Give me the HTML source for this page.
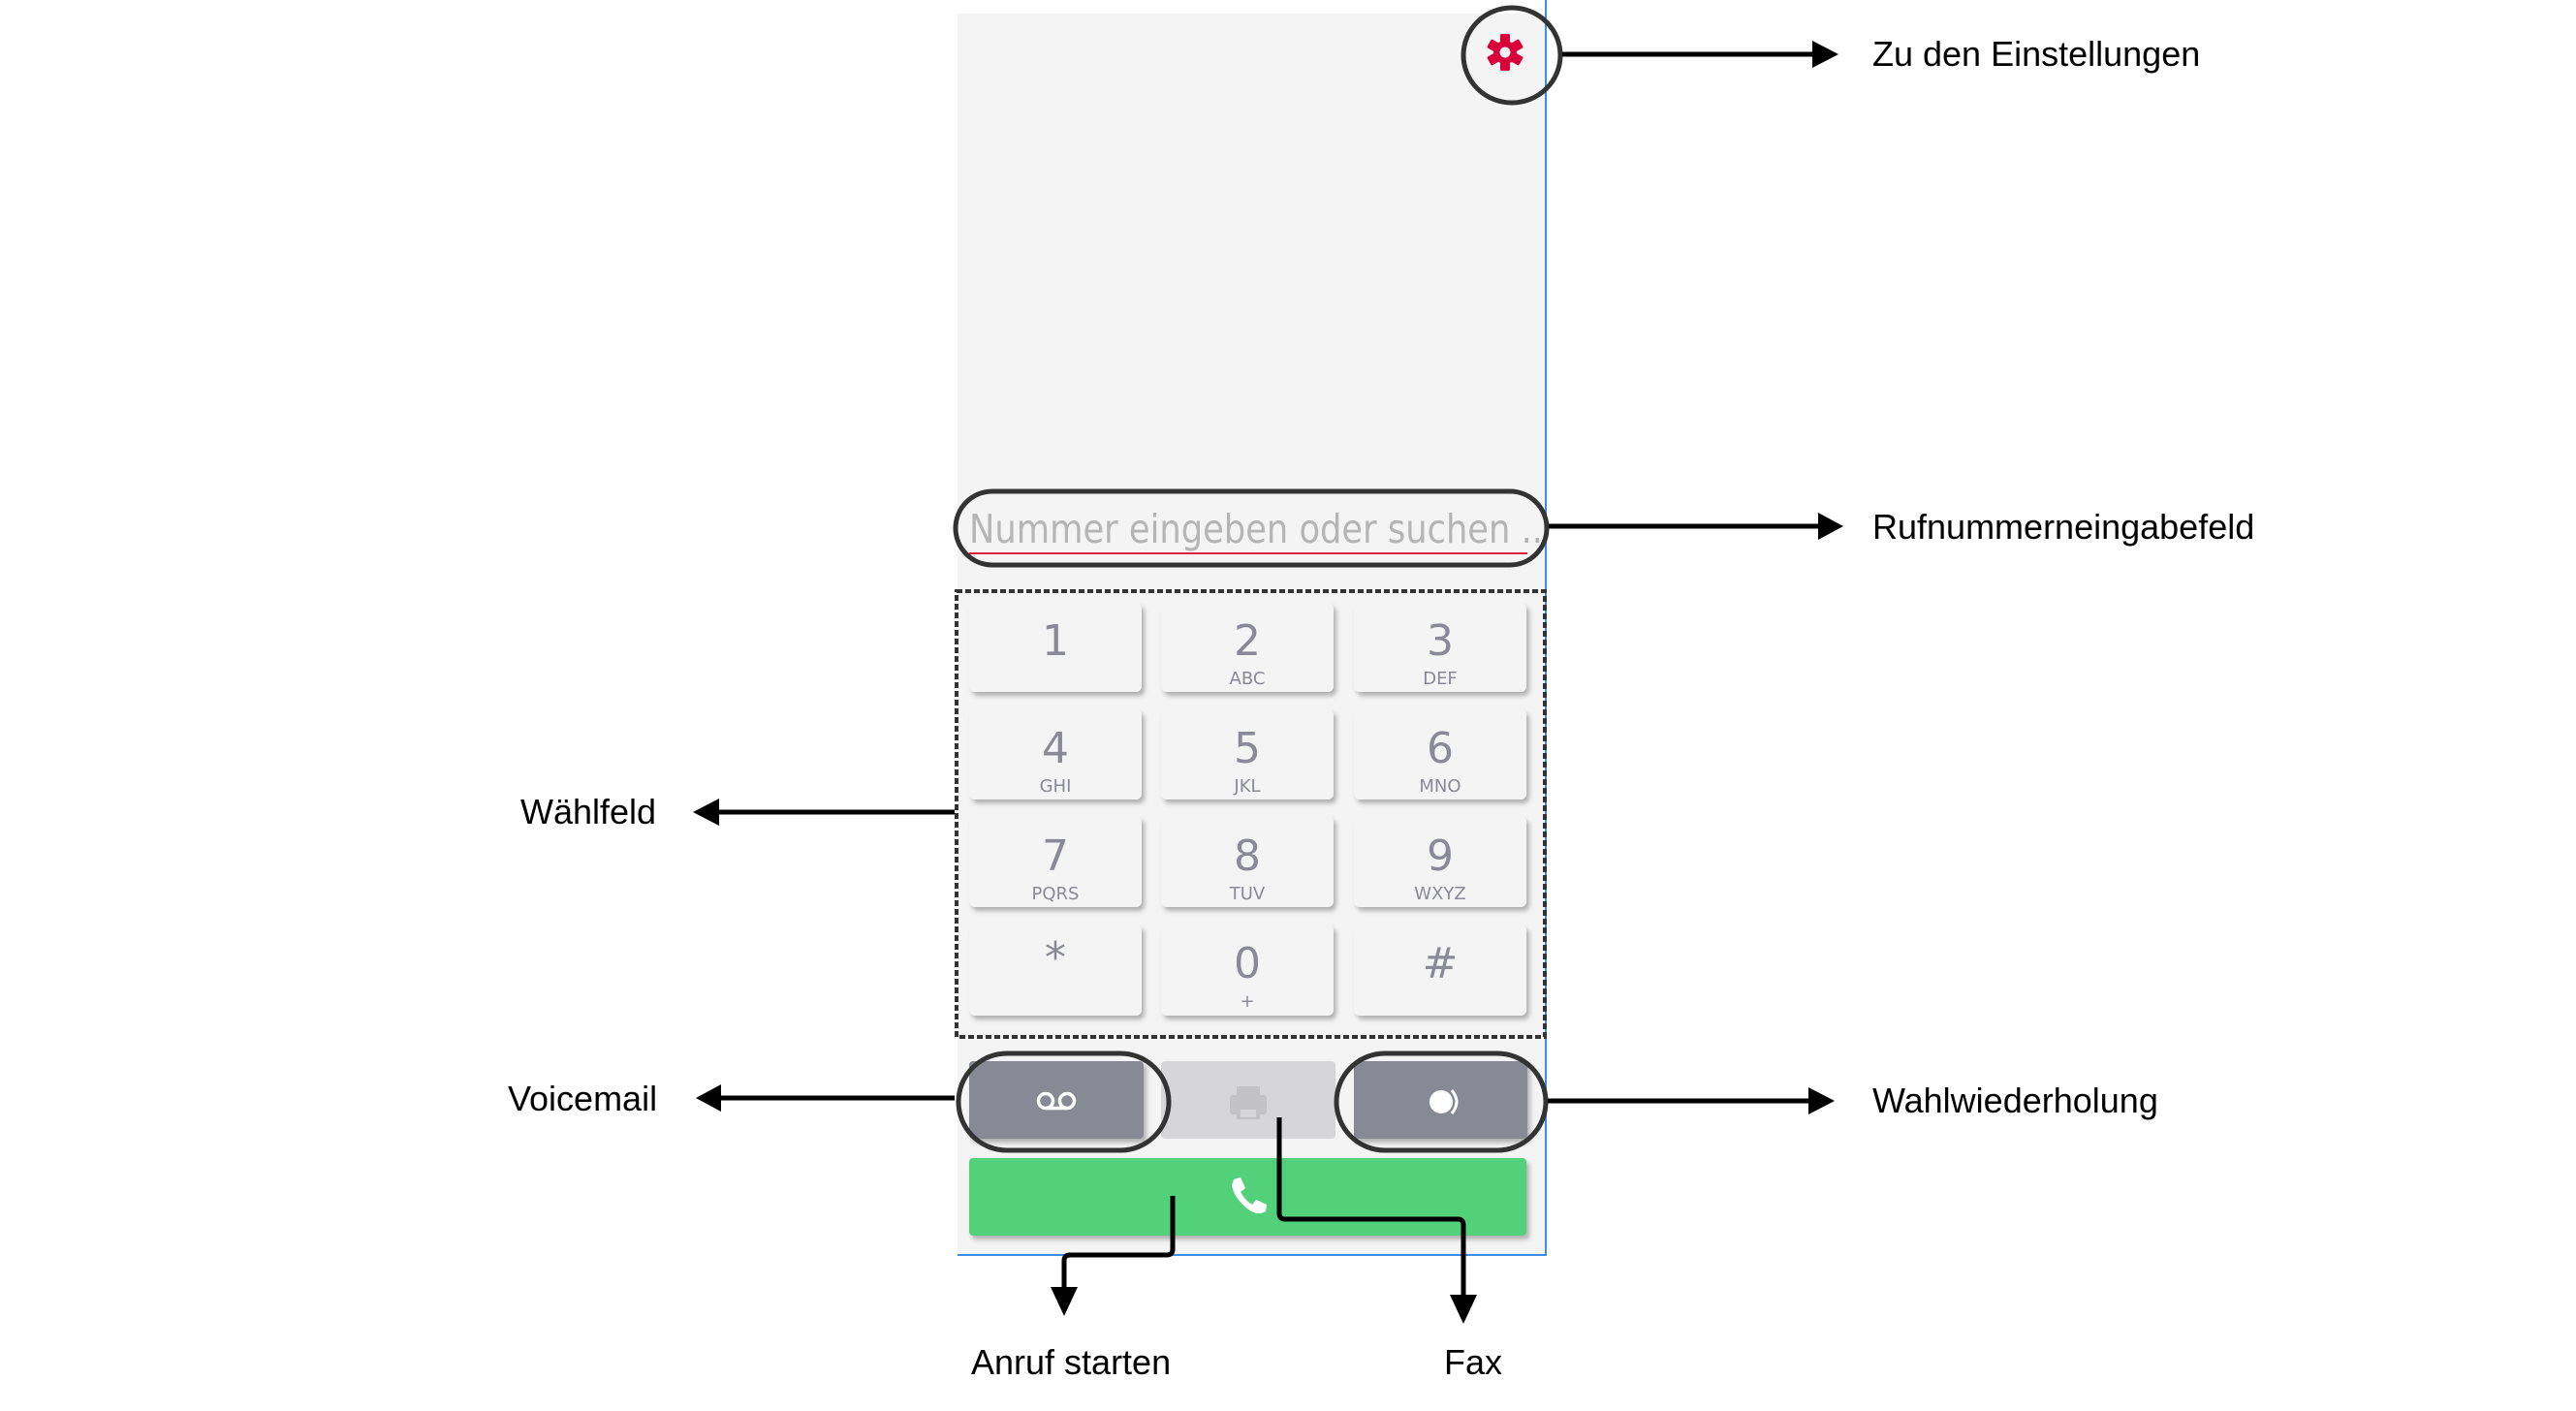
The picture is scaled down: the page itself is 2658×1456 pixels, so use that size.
<!DOCTYPE html>
<html><head><meta charset="utf-8"><style>
html,body{margin:0;padding:0;background:#fff;}
body{width:2658px;height:1456px;overflow:hidden;position:relative;font-family:"Liberation Sans",Arial,sans-serif;}
</style></head><body>
<svg width="2658" height="1456" viewBox="0 0 2658 1456" xmlns="http://www.w3.org/2000/svg" style="position:absolute;left:0;top:0">
<defs>
<filter id="sh" x="-10%" y="-10%" width="130%" height="140%"><feDropShadow dx="3" dy="4" stdDeviation="2.5" flood-color="#000" flood-opacity="0.28"/></filter>
</defs>
<rect x="988" y="14" width="607" height="1281" fill="#f4f4f4"/>
<line x1="1595" y1="0" x2="1595" y2="1296" stroke="#3a8ee6" stroke-width="2"/>
<line x1="988" y1="1295" x2="1596" y2="1295" stroke="#3a8ee6" stroke-width="2"/>

<g transform="translate(1553,54)" fill="#d8003a">
  <circle r="12"/>
  <g id="t"><rect x="-5" y="-19" width="10" height="9" rx="1.5"/></g>
  <use href="#t" transform="rotate(60)"/><use href="#t" transform="rotate(120)"/><use href="#t" transform="rotate(180)"/><use href="#t" transform="rotate(240)"/><use href="#t" transform="rotate(300)"/>
  <circle r="5.5" fill="#f4f4f4"/>
</g>
<ellipse cx="1560" cy="57" rx="50" ry="49" fill="none" stroke="#333" stroke-width="5"/>

<text x="1000" y="560" font-size="41" fill="#b5b5b5" font-family="DejaVu Sans, sans-serif" textLength="592" lengthAdjust="spacingAndGlyphs">Nummer eingeben oder suchen ..</text>
<line x1="1000" y1="571" x2="1576" y2="571" stroke="#e0204a" stroke-width="2"/>
<rect x="986" y="507" width="610" height="76" rx="38" fill="none" stroke="#333" stroke-width="5"/>

<g font-family="DejaVu Sans, sans-serif" fill="#8a8a96" text-anchor="middle">
<g filter="url(#sh)" fill="#f4f4f4">
<rect x="1000" y="622" width="178" height="92" rx="6"/><rect x="1198" y="622" width="178" height="92" rx="6"/><rect x="1397" y="622" width="178" height="92" rx="6"/>
<rect x="1000" y="732" width="178" height="93" rx="6"/><rect x="1198" y="732" width="178" height="93" rx="6"/><rect x="1397" y="732" width="178" height="93" rx="6"/>
<rect x="1000" y="842" width="178" height="94" rx="6"/><rect x="1198" y="842" width="178" height="94" rx="6"/><rect x="1397" y="842" width="178" height="94" rx="6"/>
<rect x="1000" y="954" width="178" height="94" rx="6"/><rect x="1198" y="954" width="178" height="94" rx="6"/><rect x="1397" y="954" width="178" height="94" rx="6"/>
</g>
<g font-size="44">
<text x="1089" y="676">1</text><text x="1287" y="676">2</text><text x="1486" y="676">3</text>
<text x="1089" y="787">4</text><text x="1287" y="787">5</text><text x="1486" y="787">6</text>
<text x="1089" y="898">7</text><text x="1287" y="898">8</text><text x="1486" y="898">9</text>
<text x="1089" y="1003">*</text><text x="1287" y="1009">0</text><text x="1486" y="1009">#</text>
</g>
<g font-size="18">
<text x="1287" y="706">ABC</text><text x="1486" y="706">DEF</text>
<text x="1089" y="817">GHI</text><text x="1287" y="817">JKL</text><text x="1486" y="817">MNO</text>
<text x="1089" y="928">PQRS</text><text x="1287" y="928">TUV</text><text x="1486" y="928">WXYZ</text>
<text x="1287" y="1039">+</text>
</g>
</g>
<rect x="987" y="610" width="607" height="460" fill="none" stroke="#333" stroke-width="4" stroke-dasharray="6,3"/>

<g filter="url(#sh)">
<rect x="1000" y="1095" width="180" height="80" rx="4" fill="#878a94"/>
<rect x="1397" y="1095" width="179" height="80" rx="4" fill="#878a94"/>
<rect x="1000" y="1195" width="575" height="80" rx="4" fill="#52d07a"/>
</g>
<rect x="1198" y="1095" width="180" height="80" rx="4" fill="#d6d6d8"/>
<g fill="none" stroke="#fff" stroke-width="3.5"><circle cx="1079" cy="1136" r="7.5"/><circle cx="1101" cy="1136" r="7.5"/><line x1="1079" y1="1143.5" x2="1101" y2="1143.5"/></g>
<g fill="#c2c2c4"><rect x="1276" y="1121" width="24" height="10"/><rect x="1269" y="1130" width="38" height="20" rx="3"/><rect x="1276" y="1143" width="24" height="12"/></g>
<rect x="1280" y="1145" width="16" height="8" fill="#d6d6d8"/>
<circle cx="1487" cy="1137" r="12" fill="#fff"/>
<path d="M1498 1125 Q1508 1137 1498 1149" fill="none" stroke="#fff" stroke-width="3"/>
<path d="M1273 1217 l7 -2 l5 11 l-5 4 q5 9 12 13 l4 -5 l11 5 l-1 7 q-8 5 -18 -2 q-15 -12 -17 -25 z" fill="#fff"/>

<rect x="989" y="1087" width="217" height="100" rx="50" fill="none" stroke="#333" stroke-width="5"/>
<rect x="1379" y="1087" width="216" height="100" rx="50" fill="none" stroke="#333" stroke-width="5"/>

<g stroke="#000" stroke-width="5" fill="none">
<line x1="1612" y1="56" x2="1872" y2="56"/>
<line x1="1598" y1="543" x2="1878" y2="543"/>
<line x1="985" y1="838" x2="740" y2="838"/>
<line x1="985" y1="1133" x2="742" y2="1133"/>
<line x1="1597" y1="1136" x2="1868" y2="1136"/>
<path d="M1210 1234 V1289 Q1210 1295 1204 1295 H1104 Q1098 1295 1098 1301 V1330"/>
<path d="M1320 1153 V1252 Q1320 1258 1326 1258 H1504 Q1510 1258 1510 1264 V1338"/>
</g>
<g fill="#000">
<polygon points="1897,56 1870,42 1870,70"/>
<polygon points="1902,543 1876,529 1876,557"/>
<polygon points="715,838 742,824 742,852"/>
<polygon points="718,1133 744,1119 744,1147"/>
<polygon points="1893,1136 1866,1122 1866,1150"/>
<polygon points="1098,1358 1084,1328 1112,1328"/>
<polygon points="1510,1366 1496,1336 1524,1336"/>
</g>

<g font-size="36" fill="#000">
<text x="1932" y="68">Zu den Einstellungen</text>
<text x="1932" y="556">Rufnummerneingabefeld</text>
<text x="537" y="850">Wählfeld</text>
<text x="524" y="1146">Voicemail</text>
<text x="1932" y="1148">Wahlwiederholung</text>
<text x="1002" y="1418">Anruf starten</text>
<text x="1490" y="1418">Fax</text>
</g>
</svg>
</body></html>
